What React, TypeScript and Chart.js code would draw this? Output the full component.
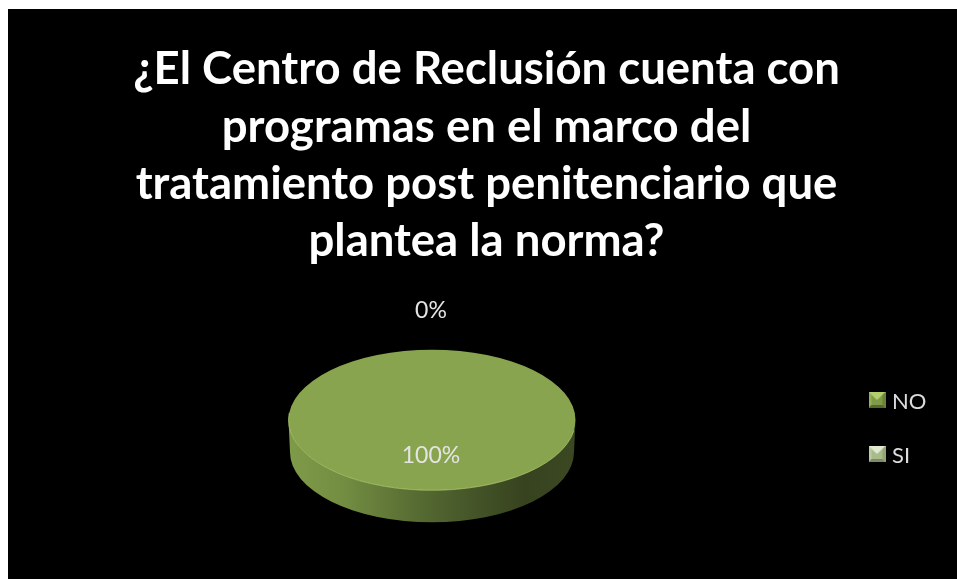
import React, { useEffect, useRef } from "react";
import { Chart, registerables } from "chart.js";

Chart.register(...registerables);

const categories = ["NO", "SI"];
const values = [100, 0];
const titleLines = [
  "¿El Centro de Reclusión cuenta con",
  "programas en el marco del",
  "tratamiento post penitenciario que",
  "plantea la norma?",
];
const sliceColors = ["#88a44e", "#b9cb93"];
const legendColors = [
  { base: "#7f9a48", top: "#b3d070", left: "#94b059", right: "#6a8239", bottom: "#546a2b" },
  { base: "#a9bb8a", top: "#dfead0", left: "#bccba6", right: "#94a678", bottom: "#7c8b64" },
];

const CANVAS_W = 949;
const CANVAS_H = 570;
const CX = 424;
const CY = 411;
const RX = 143.5;
const SQUASH = 70.3 / 143.5;
const DEPTH = 32;

function swatch(c: (typeof legendColors)[number]) {
  const s = document.createElement("canvas");
  s.width = 17;
  s.height = 20;
  const g = s.getContext("2d")!;
  const tri = (pts: number[][], col: string) => {
    g.fillStyle = col;
    g.beginPath();
    pts.forEach((p, i) => (i ? g.lineTo(p[0], p[1]) : g.moveTo(p[0], p[1])));
    g.closePath();
    g.fill();
  };
  g.fillStyle = c.base;
  g.fillRect(0, 0, 17, 16);
  tri([[0, 0], [17, 0], [8.5, 8]], c.top);
  tri([[0, 0], [0, 16], [3, 13], [3, 3]], c.left);
  tri([[17, 0], [17, 16], [14, 13], [14, 3]], c.right);
  tri([[0, 16], [17, 16], [14, 13], [3, 13]], c.bottom);
  return s;
}

const pie3d = {
  id: "pie3d",
  afterLayout(chart: any) {
    const a = chart.chartArea;
    a.left = CX - RX;
    a.right = CX + RX;
    a.top = CY - RX;
    a.bottom = CY + RX;
    a.width = RX * 2;
    a.height = RX * 2;
    const l = chart.legend;
    const w = l.width;
    l.left = 833;
    l.right = 833 + w;
    l.top = 350;
    l.bottom = 350 + l.height;
  },
  beforeDatasetsDraw(chart: any) {
    const { ctx } = chart;
    const arc = chart.getDatasetMeta(0).data[0];
    const { x, y, outerRadius: r } = arc.getProps(["x", "y", "outerRadius"], true);
    const ry = r * SQUASH;
    const grad = ctx.createLinearGradient(x - r, 0, x + r, 0);
    grad.addColorStop(0, "#7f9b49");
    grad.addColorStop(0.2, "#728c41");
    grad.addColorStop(0.45, "#566b32");
    grad.addColorStop(0.65, "#445428");
    grad.addColorStop(0.82, "#37431f");
    grad.addColorStop(1, "#3b4822");
    ctx.save();
    ctx.fillStyle = grad;
    ctx.beginPath();
    ctx.ellipse(x, y + DEPTH, r - 1.5, ry, 0, 0, Math.PI);
    ctx.lineTo(x - r, y);
    ctx.ellipse(x, y, r, ry, 0, Math.PI, 0, true);
    ctx.closePath();
    ctx.fill();
    ctx.restore();
    ctx.save();
    ctx.translate(x, y);
    ctx.scale(1, SQUASH);
    ctx.translate(-x, -y);
  },
  afterDatasetsDraw(chart: any) {
    const { ctx } = chart;
    ctx.restore();
    const meta = chart.getDatasetMeta(0);
    const first = meta.data[0].getProps(["x", "y", "outerRadius"], true);
    ctx.save();
    ctx.strokeStyle = "rgba(176,206,112,0.75)";
    ctx.lineWidth = 1;
    ctx.beginPath();
    ctx.ellipse(first.x, first.y, first.outerRadius, first.outerRadius * SQUASH, 0, 0.15, Math.PI + 0.1);
    ctx.stroke();
    const total = values.reduce((s, v) => s + v, 0);
    ctx.fillStyle = "#e4e4e4";
    ctx.font = "23px Lato";
    ctx.textAlign = "center";
    ctx.textBaseline = "middle";
    meta.data.forEach((el: any, i: number) => {
      const p = el.getProps(["x", "y", "startAngle", "endAngle", "outerRadius"], true);
      const mid = (p.startAngle + p.endAngle) / 2;
      const f = values[i] > 0 ? 0.5 : 1.55;
      ctx.fillText(
        `${Math.round((values[i] / total) * 100)}%`,
        p.x + Math.cos(mid) * p.outerRadius * f - 1,
        p.y + Math.sin(mid) * p.outerRadius * f * SQUASH
      );
    });
    ctx.restore();
  },
};

export default function App() {
  const ref = useRef<HTMLCanvasElement>(null);
  useEffect(() => {
    const swatches = legendColors.map(swatch);
    const chart = new Chart(ref.current!, {
      type: "pie",
      data: {
        labels: categories,
        datasets: [{ data: values, backgroundColor: sliceColors, borderWidth: 0 }],
      },
      plugins: [pie3d],
      options: {
        responsive: false,
        animation: false,
        events: [],
        layout: { padding: { left: 8 } },
        plugins: {
          tooltip: { enabled: false },
          title: {
            display: true,
            text: titleLines,
            color: "#ffffff",
            font: { family: "Lato", weight: "bold", size: 45.5, lineHeight: 1.26 },
            padding: { top: 32, bottom: 10 },
          },
          legend: {
            display: true,
            position: "right",
            align: "start",
            labels: {
              color: "#dcdcdc",
              font: { family: "Lato", size: 22 },
              usePointStyle: true,
              boxWidth: 16,
              boxHeight: 16,
              pointStyleWidth: 8,
              padding: 32,
              generateLabels: () =>
                categories.map((c, i) => ({
                  text: c,
                  fontColor: "#dcdcdc",
                  fillStyle: sliceColors[i],
                  strokeStyle: sliceColors[i],
                  lineWidth: 0,
                  pointStyle: swatches[i],
                  hidden: false,
                  index: i,
                })),
            },
          },
        },
      },
    } as any);
    return () => chart.destroy();
  }, []);
  return (
    <canvas
      ref={ref}
      width={CANVAS_W}
      height={CANVAS_H}
      style={{ position: "fixed", left: 8, top: 9, display: "block", background: "#000000", filter: "blur(0.4px)" }}
    />
  );
}
